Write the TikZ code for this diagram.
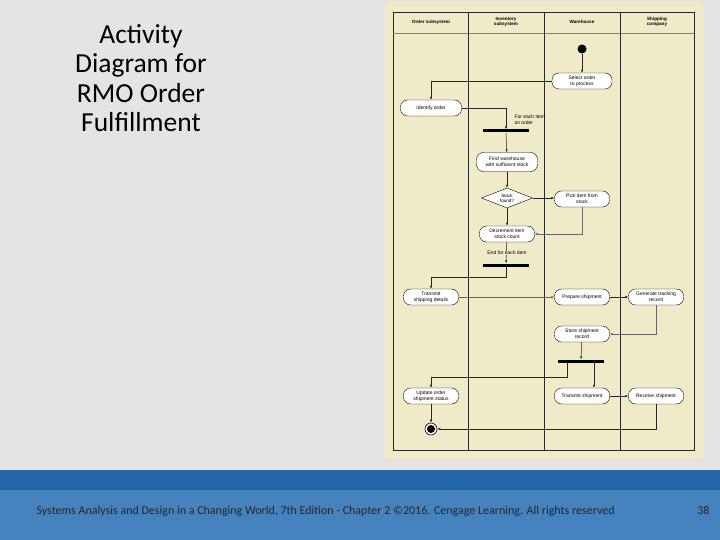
\documentclass[tikz,border=0pt]{standalone}
\usepackage{fontspec}
\setmainfont{Carlito}
\newfontfamily\diagfont{Liberation Sans}
\usepackage{tikz}
\usetikzlibrary{arrows.meta,shapes.geometric}
\definecolor{slidegray}{RGB}{228, 228, 228}
\definecolor{panelbeige}{RGB}{239, 234, 200}
\definecolor{footerdark}{RGB}{36, 100, 168}
\definecolor{footerlight}{RGB}{70, 130, 190}
\definecolor{lanegray}{RGB}{40, 40, 40}

\begin{document}
\begin{tikzpicture}[
    x=1pt, y=-1pt,
    act/.style={draw=black, fill=white, rounded corners=7pt, align=center,
        minimum width=55pt, minimum height=16pt, inner sep=1pt,
        font=\diagfont\fontsize{5}{6.2}\selectfont},
    decide/.style={draw=black, fill=white, diamond, aspect=2.4, inner sep=0pt,
        minimum width=51pt, minimum height=20pt, align=center,
        font=\diagfont\fontsize{4.6}{5.2}\selectfont},
    bar/.style={fill=black, minimum width=46pt, minimum height=3pt, inner sep=0pt},
    lane/.style={font=\diagfont\bfseries\fontsize{4.6}{5.4}\selectfont, align=center},
    note/.style={font=\diagfont\fontsize{5}{6.2}\selectfont, align=left},
    flow/.style={-{Latex[length=3pt,width=2.4pt]}, line width=0.5pt, draw=black!85}
]
% slide background and footer
\fill[slidegray] (0,0) rectangle (720,540);
\fill[footerlight] (0,490) rectangle (720,540);
\fill[footerdark] (0,470) rectangle (720,490);
\node[anchor=west, font=\fontsize{12}{14}\selectfont, text=black!85] (foot)
    at (33,511) {Systems Analysis and Design in a Changing World, 7th Edition - Chapter 2 \textcopyright2016. Cengage Learning. All rights reserved};
\node[anchor=east, font=\fontsize{12}{14}\selectfont, text=black!85] (page) at (713,510) {38};

% title
\node[align=center, font=\fontsize{27.5}{29.3}\selectfont] (title) at (141,78)
    {Activity\\Diagram for\\RMO Order\\Fulfillment};

% swimlanes
\fill[panelbeige] (385,2) rectangle (703,459);
\draw[lanegray, line width=0.6pt] (393,12) rectangle (694,450);
\draw[black!50, line width=0.4pt] (393,33) -- (694,33);
\foreach \x in {468,544,620}
    \draw[lanegray, line width=0.6pt] (\x,12) -- (\x,450);
\node[lane] (l1) at (431,22) {Order subsystem};
\node[lane] (l2) at (506,22) {Inventory\\subsystem};
\node[lane] (l3) at (582,22) {Warehouse};
\node[lane] (l4) at (657,22) {Shipping\\company};

% activities
\node[circle, fill=black, minimum size=9pt, inner sep=0pt] (start) at (582,49) {};
\node[act, minimum width=60pt] (select) at (582,81) {Select order\\to process};
\node[act, minimum width=61pt] (ident) at (431,108) {Identify order};
\node[bar] (fork1) at (506,131) {};
\node[note, anchor=west] (each) at (511,120) {For each item\\on order};
\node[act, minimum width=61pt, minimum height=19pt] (find) at (507,162) {Find warehouse\\with sufficient stock};
\node[decide] (found) at (507,198) {Stock\\found?};
\node[act] (pick) at (582,199) {Pick item from\\stock};
\node[act] (decr) at (507,234) {Decrement item\\stock count};
\node[bar] (fork2) at (506,265) {};
\node[act] (tdet) at (431,297) {Transmit\\shipping details};
\node[act] (prep) at (582,297) {Prepare shipment};
\node[act] (track) at (656,297) {Generate tracking\\record};
\node[act] (store) at (582,334) {Store shipment\\record};
\node[bar] (fork3) at (581,361) {};
\node[act] (upd) at (431,396) {Update order\\shipment status};
\node[act] (tship) at (582,396) {Transmit shipment};
\node[act] (recv) at (656,396) {Receive shipment};
\node[circle, draw=black, line width=0.6pt, fill=white, minimum size=12pt, inner sep=0pt] (finish) at (431,429) {};
\fill[black] (finish.center) circle (4pt);

% bend points
\coordinate (j1) at (506,277);
\coordinate (j2) at (567,377);
\coordinate (j3) at (594,361);

% flows
\draw[flow] (start) -- (select);
\draw[flow] (select.west) -| (ident.north);
\draw[flow] (ident.east) -| (fork1.north);
\draw[flow] (fork1) -- (find);
\draw[flow] (find) -- (found);
\draw[flow] (found.east) -- (pick.west |- found.east);
\draw[flow] (found) -- (decr);
\draw[flow, draw=black!60] (pick.south) |- (decr.east);
\draw[flow] (decr) -- (fork2);
\draw[flow] (fork2) -- (j1) -| (tdet.north);
\draw[flow, draw=black!60] (tdet.east) -- (prep.west);
\draw[flow] (prep.east) -- (track.west);
\draw[flow, draw=black!60] (track.south) |- (store.east);
\draw[flow] (store) -- (fork3);
\draw[flow] (fork3.south -| j2) -- (j2) -| (upd.north);
\draw[flow] (j3) -- (j3 |- tship.north);
\draw[flow] (tship.east) -- (recv.west);
\draw[flow] (upd) -- (finish);
\draw[flow] (recv.south) |- (finish.east);

% loop end label sits on top of its line
\node[note, fill=panelbeige, inner sep=0.6pt] (endeach) at (507,253) {End for each item};
\end{tikzpicture}
\end{document}
